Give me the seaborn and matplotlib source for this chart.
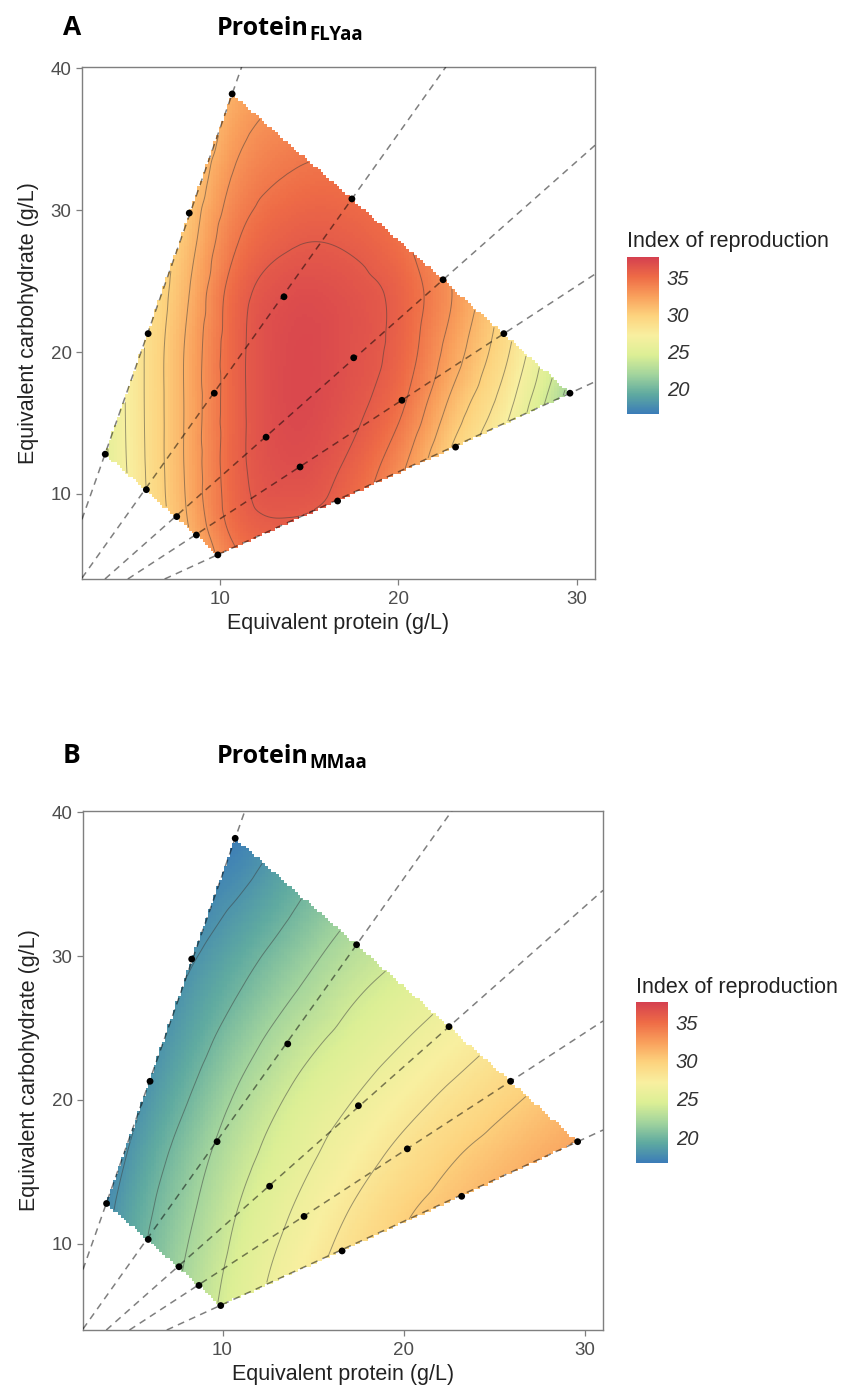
import numpy as np
import pandas as pd
import matplotlib
matplotlib.use("Agg")
import matplotlib.pyplot as plt
import matplotlib.tri as mtri
from matplotlib.path import Path
from matplotlib.colors import LinearSegmentedColormap, Normalize
import seaborn as sns

# ---------------- data ----------------
# experimental diets (equivalent protein / carbohydrate, g/L), 5 P:C ratios x 4 concentrations
protein = [3.6, 6.0, 8.3, 10.7,
           5.9, 9.7, 13.6, 17.4,
           7.6, 12.6, 17.5, 22.5,
           8.7, 14.5, 20.2, 25.9,
           9.9, 16.6, 23.2, 29.6]
carbohydrate = [12.8, 21.3, 29.8, 38.2,
                10.3, 17.1, 23.9, 30.8,
                8.4, 14.0, 19.6, 25.1,
                7.1, 11.9, 16.6, 21.3,
                5.7, 9.5, 13.3, 17.1]
ratio_group = [1] * 4 + [2] * 4 + [3] * 4 + [4] * 4 + [5] * 4

# response surface (rows: carbohydrate, columns: protein)
grid_protein = [2, 5, 8, 11, 14, 17, 20, 23, 26, 29, 32]
grid_carbohydrate = [4, 8, 12, 16, 20, 24, 28, 32, 36, 40]

repro_fly = [
    [21.5, 26.3, 30.3, 33.7, 34.5, 33.5, 30.5, 27.0, 23.0, 19.0, 15.0],
    [22.3, 27.0, 31.2, 35.2, 35.9, 35.0, 32.0, 28.5, 24.5, 20.3, 16.0],
    [22.8, 27.3, 31.5, 35.6, 36.8, 35.9, 33.5, 29.5, 26.0, 21.5, 17.0],
    [22.9, 27.4, 31.5, 35.6, 37.1, 36.5, 34.8, 31.0, 27.5, 22.5, 18.0],
    [22.9, 27.4, 31.5, 35.6, 37.1, 36.7, 35.5, 32.3, 28.8, 24.0, 19.0],
    [22.8, 27.3, 31.1, 35.4, 36.8, 36.6, 35.6, 33.0, 29.5, 25.0, 20.0],
    [22.6, 27.0, 30.5, 34.4, 35.8, 35.8, 34.8, 32.5, 29.5, 25.5, 21.0],
    [22.3, 26.5, 29.8, 33.4, 34.7, 34.8, 33.8, 31.7, 28.6, 25.2, 21.2],
    [22.0, 25.9, 29.0, 32.4, 33.6, 33.8, 32.8, 30.7, 27.7, 24.4, 20.6],
    [21.6, 25.2, 28.2, 31.4, 32.5, 32.8, 31.7, 29.7, 26.8, 23.6, 20.0],
]

repro_mm = [
    [16.8, 19.8, 22.7, 25.3, 27.6, 29.4, 30.7, 31.8, 32.8, 33.8, 34.7],
    [16.4, 19.4, 22.2, 24.8, 27.0, 28.9, 30.4, 31.5, 32.5, 33.5, 34.4],
    [16.0, 19.0, 21.6, 24.2, 26.2, 28.1, 29.8, 31.0, 32.0, 33.0, 34.0],
    [15.5, 18.3, 20.9, 23.4, 25.3, 27.0, 28.6, 30.0, 31.1, 32.2, 33.2],
    [15.2, 17.5, 19.9, 22.4, 24.4, 25.9, 27.3, 28.6, 29.8, 30.9, 31.9],
    [14.8, 16.9, 18.9, 21.2, 23.2, 24.7, 26.0, 27.2, 28.4, 29.5, 30.5],
    [14.5, 16.3, 18.1, 19.9, 21.8, 23.5, 24.7, 25.9, 27.0, 28.1, 29.1],
    [14.2, 15.8, 17.2, 18.7, 20.4, 22.2, 23.4, 24.6, 25.7, 26.8, 27.8],
    [14.0, 15.2, 16.4, 17.5, 19.2, 20.9, 22.2, 23.4, 24.5, 25.5, 26.5],
    [13.6, 14.6, 15.6, 16.4, 17.8, 19.6, 21.0, 22.2, 23.3, 24.3, 25.3],
]

colorbar_ticks = [20, 25, 30, 35]
contour_levels_fly = [21, 22.5, 24, 25.5, 27, 28.5, 30, 31.5, 33, 34.5, 36]
contour_levels_mm = [18, 20, 22, 24, 26, 28, 30, 32, 34]

# ---------------- style ----------------
sns.set_theme(style="white")
plt.rcParams['font.family'] = ['Liberation Sans', 'DejaVu Sans']

palette = ['#3b7cb8', '#5faaa0', '#a2d49d', '#dcef95', '#f8efa0',
           '#fdd37e', '#f9a05c', '#ee6b46', '#d5404f']
cmap = LinearSegmentedColormap.from_list('spec', palette)
norm = Normalize(vmin=16.6, vmax=37.7)

W, H = 849, 1389
fig = plt.figure(figsize=(W / 100, H / 100), dpi=100)


def fx(px):
    return px / W


def fy(py):
    return 1 - py / H


def convex_hull(pts):
    pts = sorted(set(pts))
    def cross(o, a, b):
        return (a[0] - o[0]) * (b[1] - o[1]) - (a[1] - o[1]) * (b[0] - o[0])
    lower, upper = [], []
    for p in pts:
        while len(lower) >= 2 and cross(lower[-2], lower[-1], p) <= 0:
            lower.pop()
        lower.append(p)
    for p in reversed(pts):
        while len(upper) >= 2 and cross(upper[-2], upper[-1], p) <= 0:
            upper.pop()
        upper.append(p)
    return lower[:-1] + upper[:-1]


df = pd.DataFrame({'protein': protein, 'carbohydrate': carbohydrate, 'ratio': ratio_group})
hull = convex_hull(list(zip(protein, carbohydrate)))
hull_path = Path(np.array(hull + [hull[0]]), closed=True)

gp, gc = np.meshgrid(grid_protein, grid_carbohydrate)

pe = np.linspace(2.0, 32.0, 201)
ce = np.linspace(4.0, 40.5, 183)
pcen = 0.5 * (pe[1:] + pe[:-1])
ccen = 0.5 * (ce[1:] + ce[:-1])
PC, CC = np.meshgrid(pcen, ccen)
inside = hull_path.contains_points(np.c_[PC.ravel(), CC.ravel()]).reshape(PC.shape)

TITLE_FONT = ['Open Sans', 'DejaVu Sans']


def panel(ax_rect, cax_rect, surface, levels, letter, sub, letter_xy, title_xy, cbar_title_xy):
    ax = fig.add_axes(ax_rect)
    tri = mtri.Triangulation(gp.ravel(), gc.ravel())
    interp = mtri.CubicTriInterpolator(tri, np.array(surface, dtype=float).ravel(), kind='geom')
    Z = np.ma.array(interp(PC, CC), mask=~inside)
    mesh = ax.pcolormesh(pe, ce, Z, cmap=cmap, norm=norm, shading='flat',
                         antialiased=False, linewidth=0, rasterized=True, zorder=1)
    ax.contour(pcen, ccen, Z, levels=levels, colors='#3c3c3c',
               linewidths=0.7, alpha=0.5, zorder=2)
    # ratio rays through the origin
    for g, sub_df in df.groupby('ratio'):
        last = sub_df.loc[sub_df['protein'].idxmax()]
        ax.axline((0, 0), (last['protein'], last['carbohydrate']), color='black',
                  alpha=0.5, lw=1.1, ls=(0, (4.5, 3.5)), zorder=3)
    sns.scatterplot(data=df, x='protein', y='carbohydrate', color='black', s=24,
                    edgecolor='none', legend=False, ax=ax, zorder=5)
    ax.set_xlim(2.3, 31.0)
    ax.set_ylim(4.0, 40.1)
    ax.set_xticks([10, 20, 30])
    ax.set_yticks([10, 20, 30, 40])
    for s in ax.spines.values():
        s.set_color('#7f7f7f')
        s.set_linewidth(1.0)
    ax.tick_params(axis='both', which='major', direction='out', length=4.5, width=0.9,
                   color='#7f7f7f', labelsize=13.5, labelcolor='#4d4d4d', pad=3,
                   bottom=True, left=True)
    ax.tick_params(axis='x', pad=4)
    ax.set_xlabel('Equivalent protein (g/L)', fontsize=15.5, color='#222222', labelpad=4)
    ax.set_ylabel('Equivalent carbohydrate (g/L)', fontsize=15.5, color='#222222', labelpad=8)

    cax = fig.add_axes(cax_rect)
    cb = fig.colorbar(mesh, cax=cax, ticks=colorbar_ticks)
    cb.outline.set_visible(False)
    cax.tick_params(axis='y', direction='in', length=4.5, width=0.9, color='white',
                    left=True, right=True, labelleft=False, labelright=True,
                    labelsize=14.5, labelcolor='#333333', pad=5.5)
    for t in cax.get_yticklabels():
        t.set_style('italic')
    fig.text(fx(cbar_title_xy[0]), fy(cbar_title_xy[1]), 'Index of reproduction',
             fontsize=15.5, color='#222222', ha='left', va='center')

    fig.text(fx(letter_xy[0]), fy(letter_xy[1]), letter, fontsize=19,
             fontweight='bold', family=TITLE_FONT, ha='left', va='baseline',
             color='black')
    t = fig.text(fx(title_xy[0]), fy(title_xy[1]), 'Protein', fontsize=18,
                 fontweight='bold', family=TITLE_FONT, ha='left',
                 va='baseline', color='black')
    fig.canvas.draw()
    bb = t.get_window_extent()
    fig.text(bb.x1 / W + 0.001, fy(title_xy[1] + 4.5), sub, fontsize=13.5,
             fontweight='bold', family=TITLE_FONT, ha='left',
             va='baseline', color='black')
    return ax


panel([fx(82), fy(579), fx(595) - fx(82), fy(67) - fy(579)],
      [fx(627), fy(414), fx(659) - fx(627), fy(257) - fy(414)],
      repro_fly, contour_levels_fly, 'A', 'FLYaa', (63, 35), (217, 35), (627, 242))

panel([fx(83), fy(1330), fx(603) - fx(83), fy(811) - fy(1330)],
      [fx(636), fy(1163), fx(668) - fx(636), fy(1002) - fy(1163)],
      repro_mm, contour_levels_mm, 'B', 'MMaa', (63, 763), (217, 763), (636, 988))

fig.savefig('out.png', dpi=100)
